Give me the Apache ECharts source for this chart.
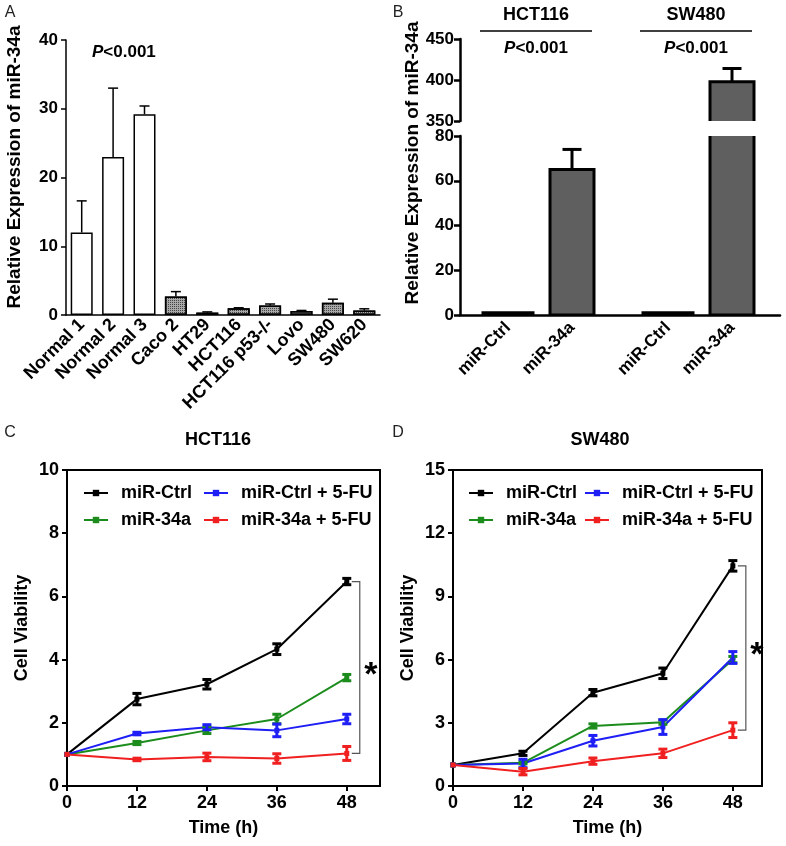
<!DOCTYPE html>
<html><head><meta charset="utf-8">
<script src="https://cdn.jsdelivr.net/npm/echarts@6/dist/echarts.min.js"></script>
<style>html,body{margin:0;padding:0;background:#fff}#c{width:786px;height:846px}</style>
</head><body><div id="c"></div>
<script>
const FONT = '"Liberation Sans", Arial, Helvetica, sans-serif';

// ---------- Panel A ----------
const aCategories = ['Normal 1','Normal 2','Normal 3','Caco 2','HT29','HCT116','HCT116 p53-/-','Lovo','SW480','SW620'];
const aValues = [12.0, 23.0, 29.2, 2.7, 0.35, 1.0, 1.4, 0.6, 1.8, 0.65];
const aErrors = [4.6, 10.0, 1.2, 0.7, 0.1, 0.05, 0.2, 0.06, 0.5, 0.25];
const aYTicks = [0, 10, 20, 30, 40];

// ---------- Panel B ----------
const bGroups = ['HCT116', 'SW480'];
const bBarLabels = ['miR-Ctrl', 'miR-34a'];
const bCtrl = [1.0, 1.0];
const bCtrlErr = [0, 0];
const bMir = [65, 398];
const bMirErr = [9, 16];
const bUpperTicks = [350, 400, 450];
const bLowerTicks = [0, 20, 40, 60, 80];

// ---------- Panels C / D ----------
const timePoints = [0, 12, 24, 36, 48];
const lineNames = ['miR-Ctrl', 'miR-34a', 'miR-Ctrl + 5-FU', 'miR-34a + 5-FU'];
const lineColors = ['#000000', '#1c8c1c', '#1e1ef5', '#f02020'];

const hctCtrl      = [1, 2.75, 3.22, 4.33, 6.47];
const hctCtrlErr   = [0, 0.18, 0.15, 0.17, 0.10];
const hctMir       = [1, 1.36, 1.76, 2.12, 3.43];
const hctMirErr    = [0, 0.05, 0.10, 0.15, 0.10];
const hctCtrlFU    = [1, 1.66, 1.86, 1.76, 2.12];
const hctCtrlFUErr = [0, 0.04, 0.08, 0.20, 0.15];
const hctMirFU     = [1, 0.84, 0.92, 0.87, 1.03];
const hctMirFUErr  = [0, 0.04, 0.12, 0.15, 0.22];
const cYTicks = [0, 2, 4, 6, 8, 10];

const swCtrl      = [1, 1.55, 4.43, 5.35, 10.45];
const swCtrlErr   = [0, 0.10, 0.15, 0.25, 0.25];
const swMir       = [1, 1.10, 2.85, 3.03, 6.00];
const swMirErr    = [0, 0.05, 0.10, 0.10, 0.15];
const swCtrlFU    = [1, 1.07, 2.15, 2.80, 6.10];
const swCtrlFUErr = [0, 0.20, 0.25, 0.35, 0.28];
const swMirFU     = [1, 0.68, 1.18, 1.55, 2.65];
const swMirFUErr  = [0, 0.15, 0.15, 0.20, 0.35];
const dYTicks = [0, 3, 6, 9, 12, 15];

// ---------- helpers ----------
function tickText(size) { return {fontFamily: FONT, fontWeight: 'bold', fontSize: size, color: '#000'}; }
const nameText = {fontFamily: FONT, fontWeight: 'bold', fontSize: 17, color: '#000'};

function errorBar(cap, lw, color, twoSided) {
  return function (params, api) {
    const x = api.value(0), y = api.value(1), e = api.value(2);
    if (!(e > 0)) return null;
    const t = api.coord([x, y + e]);
    const b = api.coord([x, twoSided ? y - e : y]);
    const h = cap / 2;
    const st = {stroke: color, lineWidth: lw, fill: null};
    const children = [
      {type: 'line', shape: {x1: t[0], y1: t[1], x2: b[0], y2: b[1]}, style: st},
      {type: 'line', shape: {x1: t[0] - h, y1: t[1], x2: t[0] + h, y2: t[1]}, style: st}
    ];
    if (twoSided) children.push({type: 'line', shape: {x1: b[0] - h, y1: b[1], x2: b[0] + h, y2: b[1]}, style: st});
    return {type: 'group', children: children};
  };
}

function bracket(params, api) {
  const x = api.value(0);
  const p1 = api.coord([x, api.value(1)]);
  const p2 = api.coord([x, api.value(2)]);
  const bx = p1[0] + 13;
  return {type: 'group', children: [
    {type: 'polyline', shape: {points: [[p1[0] + 5, p1[1]], [bx, p1[1]], [bx, p2[1]], [p2[0] + 5, p2[1]]]},
     style: {stroke: '#555', lineWidth: 1.2, fill: null}},
    {type: 'text', x: bx + 11, y: (p1[1] + p2[1]) / 2 + 8,
     style: {text: '*', font: 'bold 34px ' + FONT, align: 'center', verticalAlign: 'middle', fill: '#000'}}
  ]};
}

// ---------- Panel B category construction ----------
const bCategories = [];
const bBarData = [];
const bErrData = [];
const bHeaderData = [];
bGroups.forEach(function (g, gi) {
  const base = bCategories.length;
  bCategories.push('pad|' + g + '|a', g + '|' + bBarLabels[0], 'sep|' + g, g + '|' + bBarLabels[1], 'pad|' + g + '|b');
  bBarData.push([base + 1, bCtrl[gi]], [base + 3, bMir[gi]]);
  bErrData.push([base + 1, bCtrl[gi], bCtrlErr[gi]], [base + 3, bMir[gi], bMirErr[gi]]);
  bHeaderData.push([base + 1, base + 3]);
});

function bBar(params, api) {
  const i = api.value(0), v = api.value(1);
  const isCtrl = String(bCategories[i]).split('|')[1] === bBarLabels[0];
  const bw = isCtrl ? 50 : 44;
  const top = api.coord([i, v]);
  const base = api.coord([i, 0]);
  return {type: 'rect', shape: {x: top[0] - bw / 2, y: top[1], width: bw, height: base[1] - top[1]},
    style: {fill: '#5f5f5f', stroke: '#000', lineWidth: 3}};
}

function bHeader(params, api) {
  const p1 = api.coord([api.value(0), bUpperTicks[bUpperTicks.length - 1]]);
  const p2 = api.coord([api.value(1), bUpperTicks[bUpperTicks.length - 1]]);
  const mid = (p1[0] + p2[0]) / 2 - 4;
  const y0 = p1[1];
  return {type: 'group', children: [
    {type: 'line', shape: {x1: mid - 56, y1: y0 - 8, x2: mid + 56, y2: y0 - 8}, style: {stroke: '#000', lineWidth: 1.5}},
    {type: 'text', x: mid, y: y0 - 24, style: {text: bGroups[params.dataIndex], font: 'bold 18px ' + FONT, align: 'center', verticalAlign: 'middle', fill: '#000'}},
    {type: 'text', x: mid, y: y0 + 9, style: {text: '{i|P}<0.001', font: 'bold 17px ' + FONT, align: 'center', verticalAlign: 'middle', fill: '#000',
      rich: {i: {fontStyle: 'italic', fontWeight: 'bold', fontSize: 17, fontFamily: FONT}}}}
  ]};
}

function toPairs(vals) { return timePoints.map(function (t, i) { return [t, vals[i]]; }); }
function toErr(vals, errs) { return timePoints.map(function (t, i) { return [t, vals[i], errs[i]]; }); }

function linePanel(idx, sets) {
  const out = [];
  sets.forEach(function (s, i) {
    out.push({type: 'line', name: lineNames[i], xAxisIndex: idx, yAxisIndex: idx, data: toPairs(s[0]),
      symbol: 'rect', symbolSize: 5, showSymbol: true, color: lineColors[i],
      lineStyle: {width: 2, color: lineColors[i]}, itemStyle: {color: lineColors[i]}, z: 3 + i, silent: true});
  });
  sets.forEach(function (s, i) {
    out.push({type: 'custom', name: lineNames[i] + ' err', xAxisIndex: idx, yAxisIndex: idx,
      data: toErr(s[0], s[1]), renderItem: errorBar(9, 3, lineColors[i], true), z: 10 + i, silent: true});
  });
  const last = timePoints.length - 1;
  out.push({type: 'custom', xAxisIndex: idx, yAxisIndex: idx, data: [[timePoints[last], sets[0][0][last], sets[3][0][last]]],
    renderItem: bracket, z: 20, silent: true});
  return out;
}

function legendCol(left, top, names) {
  return {orient: 'vertical', left: left, top: top, padding: 0, data: names, itemWidth: 24, itemHeight: 8, itemGap: 9,
    selectedMode: false, textStyle: {fontFamily: FONT, fontWeight: 'bold', fontSize: 18, color: '#000', padding: [0, 0, 0, 8]}};
}

function valueXAxis(grid, max) {
  return {type: 'value', gridIndex: grid, min: timePoints[0], max: max, interval: 12,
    name: 'Time (h)', nameLocation: 'middle', nameGap: 33, nameTextStyle: Object.assign({}, nameText, {fontSize: 18}),
    axisLine: {lineStyle: {color: '#000', width: 2}}, axisTick: {length: 5, lineStyle: {color: '#000', width: 2}, customValues: timePoints},
    axisLabel: Object.assign({margin: 8, customValues: timePoints}, tickText(18)), splitLine: {show: false}};
}
function valueYAxis(grid, ticks) {
  return {type: 'value', gridIndex: grid, min: ticks[0], max: ticks[ticks.length - 1], interval: ticks[1] - ticks[0],
    name: 'Cell Viability', nameLocation: 'middle', nameGap: 36, nameTextStyle: Object.assign({}, nameText, {fontSize: 18}),
    axisLine: {show: true, lineStyle: {color: '#000', width: 2}}, axisTick: {show: true, length: 5, lineStyle: {color: '#000', width: 2}},
    axisLabel: Object.assign({margin: 8}, tickText(18)), splitLine: {show: false}};
}

const option = {
  backgroundColor: '#fff',
  animation: false,
  textStyle: {fontFamily: FONT},
  grid: [
    {left: 66, top: 40, width: 314, height: 275},
    {left: 460, top: 39, width: 320, height: 82},
    {left: 460, top: 136, width: 320, height: 179},
    {left: 67, top: 470, width: 313, height: 316, show: true, borderColor: '#000', borderWidth: 2},
    {left: 453, top: 470, width: 309, height: 316, show: true, borderColor: '#000', borderWidth: 2}
  ],
  xAxis: [
    {type: 'category', gridIndex: 0, data: aCategories,
      axisLine: {lineStyle: {color: '#000', width: 1.5}}, axisTick: {alignWithLabel: true, length: 4, lineStyle: {color: '#000', width: 1.5}},
      axisLabel: Object.assign({rotate: 45, interval: 0, margin: 7}, tickText(18))},
    {type: 'category', gridIndex: 1, data: bCategories, show: false},
    {type: 'category', gridIndex: 2, data: bCategories,
      axisLine: {lineStyle: {color: '#000', width: 2.5}},
      axisTick: {alignWithLabel: true, length: 6, interval: function (i, v) { return String(v).indexOf('sep|') === 0; }, lineStyle: {color: '#000', width: 2.5}},
      axisLabel: Object.assign({rotate: 45, interval: 0, margin: 10,
        formatter: function (v) { return (v.indexOf('pad|') === 0 || v.indexOf('sep|') === 0) ? '' : v.split('|')[1]; }}, tickText(17))},
    valueXAxis(3, 53.7),
    valueXAxis(4, 53)
  ],
  yAxis: [
    {type: 'value', gridIndex: 0, min: aYTicks[0], max: aYTicks[aYTicks.length - 1], interval: aYTicks[1] - aYTicks[0],
      axisLine: {show: true, lineStyle: {color: '#000', width: 1.5}}, axisTick: {show: true, length: 5, lineStyle: {color: '#000', width: 1.5}},
      axisLabel: Object.assign({margin: 8}, tickText(17)), splitLine: {show: false}},
    {type: 'value', gridIndex: 1, min: bUpperTicks[0], max: bUpperTicks[bUpperTicks.length - 1], interval: bUpperTicks[1] - bUpperTicks[0],
      axisLine: {show: true, lineStyle: {color: '#000', width: 2.5}}, axisTick: {show: true, length: 6, lineStyle: {color: '#000', width: 2.5}},
      axisLabel: Object.assign({margin: 6}, tickText(17)), splitLine: {show: false}},
    {type: 'value', gridIndex: 2, min: bLowerTicks[0], max: bLowerTicks[bLowerTicks.length - 1], interval: bLowerTicks[1] - bLowerTicks[0],
      axisLine: {show: true, lineStyle: {color: '#000', width: 2.5}}, axisTick: {show: true, length: 6, lineStyle: {color: '#000', width: 2.5}},
      axisLabel: Object.assign({margin: 6}, tickText(17)), splitLine: {show: false}},
    valueYAxis(3, cYTicks),
    valueYAxis(4, dYTicks)
  ],
  legend: [
    legendCol(83, 484, [lineNames[0], lineNames[1]]),
    legendCol(203, 484, [lineNames[2], lineNames[3]]),
    legendCol(468, 484, [lineNames[0], lineNames[1]]),
    legendCol(584, 484, [lineNames[2], lineNames[3]])
  ],
  graphic: [
    {type: 'text', x: 10, y: 13, style: {text: 'A', font: '16px ' + FONT, fill: '#222', align: 'center', verticalAlign: 'middle'}},
    {type: 'text', x: 398, y: 13, style: {text: 'B', font: '16px ' + FONT, fill: '#222', align: 'center', verticalAlign: 'middle'}},
    {type: 'text', x: 10, y: 433, style: {text: 'C', font: '16px ' + FONT, fill: '#222', align: 'center', verticalAlign: 'middle'}},
    {type: 'text', x: 398, y: 433, style: {text: 'D', font: '16px ' + FONT, fill: '#222', align: 'center', verticalAlign: 'middle'}},
    {type: 'text', x: 92, y: 52, style: {text: '{i|P}<0.001', font: 'bold 17px ' + FONT, fill: '#000', align: 'left', verticalAlign: 'middle',
      rich: {i: {fontStyle: 'italic', fontWeight: 'bold', fontSize: 17, fontFamily: FONT}}}},
    {type: 'text', x: 218, y: 440, style: {text: 'HCT116', font: 'bold 18px ' + FONT, fill: '#000', align: 'center', verticalAlign: 'middle'}},
    {type: 'text', x: 600, y: 440, style: {text: 'SW480', font: 'bold 18px ' + FONT, fill: '#000', align: 'center', verticalAlign: 'middle'}},
    {type: 'text', x: 15, y: 167, rotation: Math.PI / 2, style: {text: 'Relative Expression of miR-34a', font: 'bold 19px ' + FONT, fill: '#000', align: 'center', verticalAlign: 'middle'}},
    {type: 'text', x: 413, y: 163, rotation: Math.PI / 2, style: {text: 'Relative Expression of miR-34a', font: 'bold 19px ' + FONT, fill: '#000', align: 'center', verticalAlign: 'middle'}}
  ],
  series: [
    {type: 'bar', name: 'A bars', xAxisIndex: 0, yAxisIndex: 0, barWidth: 22, silent: true,
      data: aValues.map(function (v, i) {
        const normal = aCategories[i].indexOf('Normal') === 0;
        return {value: v, itemStyle: normal ? {color: '#fff', borderColor: '#000', borderWidth: 1.5}
          : {color: '#a8a8a8', borderColor: '#000', borderWidth: 1.5,
             decal: {symbol: 'rect', symbolSize: 1, dashArrayX: [1, 1], dashArrayY: [1, 1], color: '#444'}}};
      })},
    {type: 'custom', xAxisIndex: 0, yAxisIndex: 0, silent: true, z: 5,
      data: aValues.map(function (v, i) { return [i, v, aErrors[i]]; }), renderItem: errorBar(10, 1.5, '#000', false)},

    {type: 'custom', xAxisIndex: 1, yAxisIndex: 1, clip: true, silent: true, data: bBarData, renderItem: bBar},
    {type: 'custom', xAxisIndex: 2, yAxisIndex: 2, clip: true, silent: true, data: bBarData, renderItem: bBar},
    {type: 'custom', xAxisIndex: 1, yAxisIndex: 1, clip: true, silent: true, z: 5, data: bErrData, renderItem: errorBar(19, 3, '#000', false)},
    {type: 'custom', xAxisIndex: 2, yAxisIndex: 2, clip: true, silent: true, z: 5, data: bErrData, renderItem: errorBar(19, 3, '#000', false)},
    {type: 'custom', xAxisIndex: 1, yAxisIndex: 1, clip: false, silent: true, data: bHeaderData, renderItem: bHeader}
  ]
  .concat(linePanel(3, [[hctCtrl, hctCtrlErr], [hctMir, hctMirErr], [hctCtrlFU, hctCtrlFUErr], [hctMirFU, hctMirFUErr]]))
  .concat(linePanel(4, [[swCtrl, swCtrlErr], [swMir, swMirErr], [swCtrlFU, swCtrlFUErr], [swMirFU, swMirFUErr]]))
};

const chart = echarts.init(document.getElementById('c'), null, {renderer: 'canvas'});
chart.setOption(option);
</script>
</body></html>
